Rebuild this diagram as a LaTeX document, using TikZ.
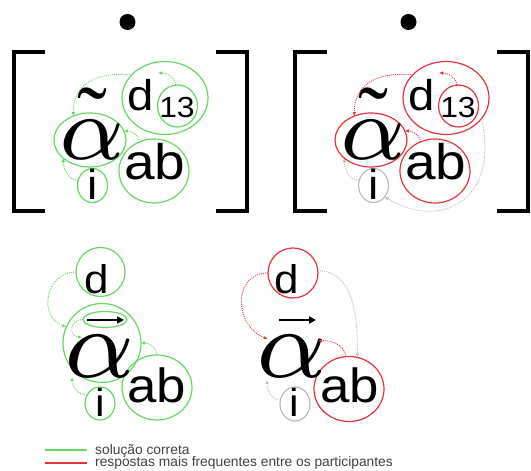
\documentclass[tikz,border=0pt]{standalone}
\usepackage{fontspec}
\usepackage{graphicx}
\usetikzlibrary{shapes.geometric,arrows.meta}
\newfontfamily\lsf[FakeStretch=1.1]{Liberation Sans}
\newfontfamily\legf{Liberation Sans}
\newfontfamily\lserif{Liberation Serif}
\definecolor{cgreen}{RGB}{100,215,100}
\definecolor{cred}{RGB}{228,52,58}
\definecolor{cgray}{RGB}{188,188,188}
\newcommand{\balpha}[1]{\scalebox{#1}{$\scriptstyle\alpha$}}
\newcommand{\tildeglyph}{\raisebox{-0.56em}[0.08em][0pt]{\char"02DC}}
\tikzset{
  el/.style={ellipse, line width=1.2pt, inner sep=0pt, outer sep=0pt},
  gel/.style={el, draw=cgreen},
  rel/.style={el, draw=cred},
  yel/.style={el, draw=cgray},
  sym/.style={inner sep=0pt, anchor=base},
  tld/.style={inner sep=0pt, anchor=north, font=\fontsize{90}{90}\lserif},
  alf/.style={inner sep=0pt},
  arr/.style={line width=0.9pt, dash pattern=on 1pt off 1.1pt, -{Latex[length=4pt,width=3.6pt]}},
  garr/.style={arr, cgreen},
  rarr/.style={arr, cred},
  yarr/.style={arr, cgray},
  brk/.style={line width=3.3pt, black},
  vecar/.style={line width=2.2pt, -{Triangle[length=7pt,width=7pt]}},
}
\begin{document}
\begin{tikzpicture}[x=1pt,y=1pt]
\useasboundingbox (0,0) rectangle (531,471);
% ---------------- top-left ----------------
\fill (127.5,449) circle (8);
\draw[brk] (45,419) -- (14,419) -- (14,260) -- (45,260);
\draw[brk] (216,419) -- (247,419) -- (247,260) -- (216,260);
\node[gel, minimum width=72pt, minimum height=54pt] (eA) at (90,331) {};
\node[gel, minimum width=86pt, minimum height=73pt] (eD) at (165,373) {};
\node[gel, minimum width=40pt, minimum height=42pt] (eN) at (177.5,365) {};
\node[gel, minimum width=70pt, minimum height=64pt] (eAB) at (154,300) {};
\node[gel, minimum width=30pt, minimum height=34pt] (eI) at (92.5,285.5) {};
\node[alf] (al1) at (92.5,331) {\balpha{13}};
\node[tld] (tl1) at (92,380) {\tildeglyph};
\node[sym, font=\fontsize{43}{43}\lsf] (d1) at (141,360) {d};
\node[sym, font=\fontsize{29}{29}\lsf] (n1) at (177,353) {13};
\node[sym, font=\fontsize{50}{50}\lsf] (ab1) at (155,291) {ab};
\node[sym, font=\fontsize{42}{42}\lsf] (i1) at (92.5,271) {i};
\coordinate (tD1) at (158,398);
\draw[garr] (eD.145) to[out=175,in=90,looseness=1.2] (eA.125);
\draw[garr] (eN.95) to[out=90,in=0] (tD1);
\draw[garr] (eAB.117) to[out=90,in=0] (eA.15);
\draw[garr] (eI.160) to[out=180,in=270] (eA.214);
% ---------------- top-right ----------------
\fill (408.5,449) circle (8);
\draw[brk] (327,419) -- (295,419) -- (295,260) -- (327,260);
\draw[brk] (497,419) -- (528,419) -- (528,260) -- (497,260);
\node[rel, minimum width=72pt, minimum height=54pt] (rA) at (371,331) {};
\node[rel, minimum width=86pt, minimum height=73pt] (rD) at (446,373) {};
\node[rel, minimum width=40pt, minimum height=42pt] (rN) at (458.5,365) {};
\node[rel, minimum width=70pt, minimum height=64pt] (rAB) at (435,300) {};
\node[yel, minimum width=30pt, minimum height=34pt] (rI) at (373.5,285.5) {};
\node[alf] (al2) at (373.5,331) {\balpha{13}};
\node[tld] (tl2) at (373,380) {\tildeglyph};
\node[sym, font=\fontsize{43}{43}\lsf] (d2) at (422,360) {d};
\node[sym, font=\fontsize{29}{29}\lsf] (n2) at (458,353) {13};
\node[sym, font=\fontsize{50}{50}\lsf] (ab2) at (436,291) {ab};
\node[sym, font=\fontsize{42}{42}\lsf] (i2) at (373.5,271) {i};
\coordinate (tD2) at (439,398);
\draw[rarr] (rD.145) to[out=175,in=90,looseness=1.2] (rA.125);
\draw[rarr] (rN.95) to[out=90,in=0] (tD2);
\draw[rarr] (rAB.117) to[out=90,in=0] (rA.15);
\draw[yarr] (rI.160) to[out=180,in=270] (rA.214);
\draw[yarr] (rD.-30) .. controls +(18.5,-82.5) and +(55.5,-34) .. (rI.-45);
% ---------------- bottom-left ----------------
\node[gel, minimum width=49pt, minimum height=49pt] (gD) at (100.5,199) {};
\node[gel, minimum width=78pt, minimum height=79pt] (gA) at (102,128) {};
\node[gel, minimum width=44pt, minimum height=16pt] (gV) at (105,151.5) {};
\node[gel, minimum width=70pt, minimum height=65pt] (gAB) at (157,83.5) {};
\node[gel, minimum width=30pt, minimum height=33pt] (gI) at (100,67.5) {};
\node[sym, font=\fontsize{40}{40}\lsf] (d3) at (96.5,177) {d};
\node[alf] (al3) at (100,114.5) {\balpha{14}};
\coordinate (va3) at (87,151);
\coordinate (vb3) at (124,151);
\draw[vecar] (va3) -- (vb3);
\node[sym, font=\fontsize{48}{48}\lsf] (ab3) at (157,68) {ab};
\node[sym, font=\fontsize{39}{39}\lsf] (i3) at (100.5,54) {i};
\coordinate (tV) at (82,134);
\coordinate (tI3) at (72,94);
\draw[garr] (gD.180) to[out=180,in=160,looseness=1.4] (gA.156);
\draw[garr] (gV.180) to[out=180,in=180,looseness=2] (tV);
\draw[garr] (gAB.90) to[out=90,in=0] (gA.0);
\draw[garr] (gI.147) to[out=180,in=270] (tI3);
% ---------------- bottom-right ----------------
\node[rel, minimum width=50pt, minimum height=50pt] (bD) at (293,198) {};
\node[rel, minimum width=70pt, minimum height=65pt] (bAB) at (349,82) {};
\node[yel, minimum width=30pt, minimum height=34pt] (bI) at (295,67) {};
\node[sym, font=\fontsize{40}{40}\lsf] (d4) at (287,177) {d};
\node[alf] (al4) at (292,114.5) {\balpha{14}};
\coordinate (va4) at (279,151);
\coordinate (vb4) at (316,151);
\draw[vecar] (va4) -- (vb4);
\node[sym, font=\fontsize{48}{48}\lsf] (ab4) at (349.5,68) {ab};
\node[sym, font=\fontsize{39}{39}\lsf] (i4) at (294.5,54) {i};
\coordinate (tD4) at (268,132);
\coordinate (tAB4) at (318,130);
\coordinate (tI4) at (267,91);
\draw[rarr] (bD.180) to[out=180,in=160,looseness=1.4] (tD4);
\draw[rarr] (bAB.95) to[out=100,in=5] (tAB4);
\draw[yarr] (bD.5) to[out=0,in=90] (bAB.75);
\draw[yarr] (bI.165) to[out=180,in=270] (tI4);
% ---------------- legend ----------------
\coordinate (lg1) at (45,21);
\coordinate (lg2) at (87,21);
\coordinate (lr1) at (45,8);
\coordinate (lr2) at (87,8);
\draw[cgreen, line width=1.8pt] (lg1) -- (lg2);
\draw[cred, line width=1.8pt] (lr1) -- (lr2);
\node[inner sep=0pt, anchor=base west, font=\fontsize{13.8}{13.8}\legf, text=black!75] (lt1) at (95,16.5) {solução correta};
\node[inner sep=0pt, anchor=base west, font=\fontsize{13.8}{13.8}\legf, text=black!75] (lt2) at (95,4) {respostas mais frequentes entre os participantes};
\end{tikzpicture}
\end{document}
